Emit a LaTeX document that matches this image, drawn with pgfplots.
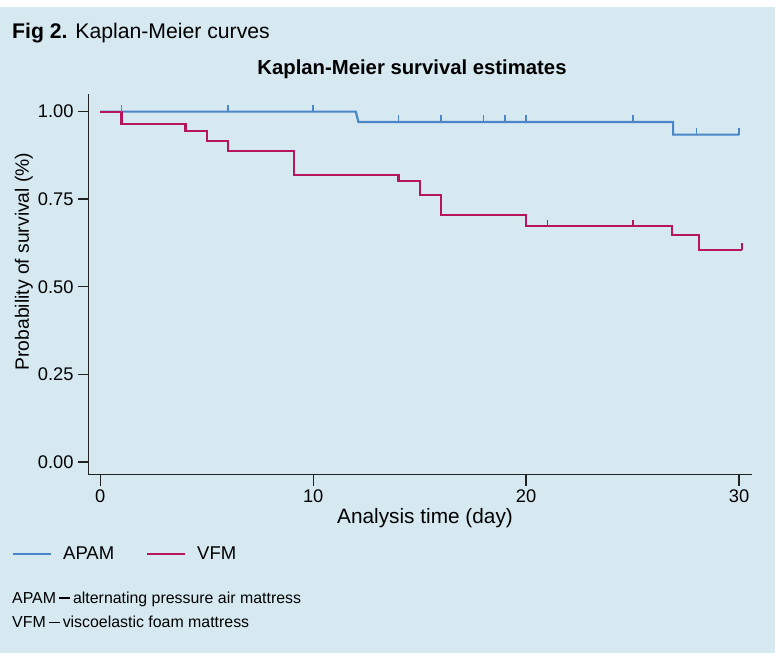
\documentclass[border=0pt]{standalone}
\usepackage{fontspec}
\setmainfont{Liberation Sans}
\usepackage{pgfplots}
\pgfplotsset{compat=1.18}
\definecolor{bgblue}{RGB}{214,233,241}
\definecolor{apam}{RGB}{74,134,200}
\definecolor{vfm}{RGB}{183,22,94}
\definecolor{axcol}{RGB}{35,35,35}
\pgfdeclareplotmark{cens}{\pgfpathmoveto{\pgfpointorigin}\pgfpathlineto{\pgfpoint{0pt}{6.5bp}}\pgfusepathqstroke}
\begin{document}
\begin{tikzpicture}
\fill[white] (0,0) rectangle (775bp,661bp);
\fill[bgblue] (0,8bp) rectangle (775bp,654bp);
\node[anchor=base west, inner sep=0pt, font=\fontsize{21.2bp}{25bp}\selectfont] at (12bp,622bp) {\textbf{Fig 2.} Kaplan-Meier curves};
\begin{axis}[
  at={(88.7bp,186.3bp)}, anchor=south west, scale only axis,
  width=663.6bp, height=380.4bp,
  xmin=-0.545, xmax=30.62, ymin=-0.0363, ymax=1.0494,
  axis x line*=bottom, axis y line*=left,
  every outer x axis line/.append style={-},
  every outer y axis line/.append style={-},
  axis line style={axcol, line width=1.4bp, -},
  xtick={0,10,20,30}, xticklabels={0,10,20,30},
  ytick={0,0.25,0.5,0.75,1}, yticklabels={0.00,0.25,0.50,0.75,1.00},
  tick align=outside, major tick length=11bp,
  tick style={axcol, line width=1.4bp},
  tick label style={font=\fontsize{18.3bp}{22bp}\selectfont, inner sep=0pt},
  xticklabel style={yshift=-4.3bp},
  yticklabel style={xshift=-4bp},
  title={Kaplan-Meier survival estimates},
  title style={font=\bfseries\fontsize{20.3bp}{24bp}\selectfont, at={(axis description cs:0.4872,1)}, anchor=base, yshift=14.3bp, inner sep=0pt},
  xlabel={Analysis time (day)},
  xlabel style={font=\fontsize{20.8bp}{24bp}\selectfont, at={(axis description cs:0.5068,0)}, anchor=base, yshift=-48.6bp, inner sep=0pt},
  ylabel={Probability of survival (\%)},
  ylabel style={font=\fontsize{19.3bp}{23bp}\selectfont, at={([xshift=-59.7bp]axis description cs:0,0.5605)}, anchor=base, inner sep=0pt},
  legend columns=2,
  legend image code/.code={\draw[#1, line width=2bp] (0bp,0bp) -- (38bp,0bp);},
  legend style={at={(axis description cs:-0.1156,-0.2077)}, anchor=west, draw=none, fill=none, inner sep=0pt,
    font=\fontsize{18.5bp}{22bp}\selectfont, nodes={inner sep=0pt},
    /tikz/every odd column/.append style={column sep=11bp},
    /tikz/every even column/.append style={column sep=32bp}},
]
\addplot[apam, line width=2.2bp, sharp plot] coordinates {(0,1)(12,1)(12.12,0.9706)(26.9,0.9706)(26.9,0.9343)(30,0.9343)};
\addlegendentry{APAM}
\addplot[vfm, line width=2.2bp, const plot] coordinates {(0,1)(1,0.9657)(4,0.944)(5,0.9164)(6,0.887)(9.1,0.819)(14,0.801)(15,0.761)(16,0.705)(20,0.673)(26.85,0.647)(28.1,0.606)(30.15,0.606)};
\addlegendentry{VFM}
\addplot[apam, only marks, mark=cens, mark options={line width=1.8bp}, forget plot] coordinates {(1,1)(6,1)(10,1)(14,0.9706)(16,0.9706)(18,0.9706)(19,0.9706)(20,0.9706)(25,0.9706)(28,0.9343)(30,0.9343)};
\addplot[vfm, only marks, mark=cens, mark options={line width=1.8bp}, forget plot] coordinates {(21,0.673)(25,0.673)(30.15,0.606)};
\end{axis}
\node[anchor=base west, inner sep=0pt, font=\fontsize{15.9bp}{18bp}\selectfont] at (12bp,57.7bp) {APAM\kern3bp\rule[4.7bp]{11bp}{1.1bp}\kern3bp alternating pressure air mattress};
\node[anchor=base west, inner sep=0pt, font=\fontsize{15.9bp}{18bp}\selectfont] at (12bp,33.3bp) {VFM\kern3bp\rule[4.7bp]{11bp}{1.1bp}\kern3bp viscoelastic foam mattress};
\end{tikzpicture}
\end{document}
